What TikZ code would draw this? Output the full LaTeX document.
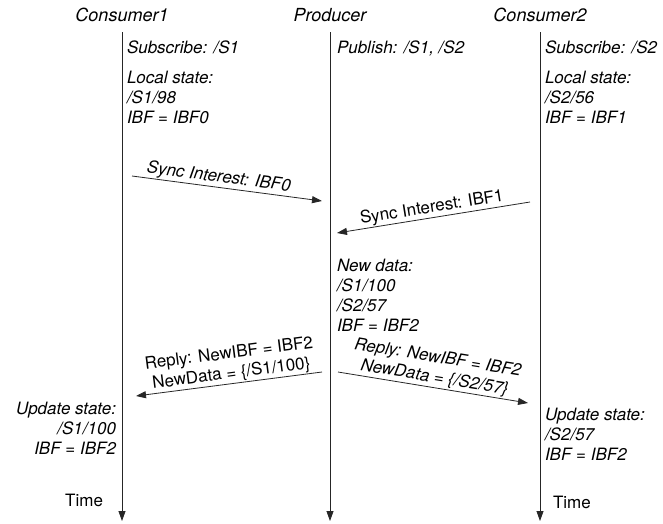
\documentclass[tikz,border=0pt]{standalone}
\usepackage{fontspec}
\setmainfont{TeX Gyre Heros}
\usetikzlibrary{arrows.meta}
\begin{document}
\begin{tikzpicture}[x=1pt,y=-1pt,
  every node/.style={inner sep=0pt, outer sep=0pt},
  hdr/.style={font=\fontsize{18}{20}\selectfont\itshape},
  txt/.style={font=\fontsize{17}{20}\selectfont\itshape, align=left},
  up/.style={font=\fontsize{17}{20}\selectfont},
  lbl/.style={font=\fontsize{17}{20}\selectfont, align=center, sloped, above=1.5pt},
  ln/.style={draw=black!85, line width=0.8pt, -{Triangle[length=10pt,width=7pt]}}]
\useasboundingbox (0,0) rectangle (663,523);
% headers
\node[hdr, anchor=base] (h1) at (122,21) {Consumer1};
\node[hdr, anchor=base] (h2) at (330,21) {Producer};
\node[hdr, anchor=base] (h3) at (540,21) {Consumer2};
% lifelines
\coordinate (c1top) at (122,32); \coordinate (c1bot) at (122,521);
\coordinate (ptop) at (330,32);  \coordinate (pbot) at (330,521);
\coordinate (c2top) at (540,32); \coordinate (c2bot) at (540,521);
\draw[ln] (c1top) -- (c1bot);
\draw[ln] (ptop) -- (pbot);
\draw[ln] (c2top) -- (c2bot);
% states
\node[txt, anchor=base west] (s1) at (127,53) {Subscribe: /S1};
\node[txt, anchor=north west] (ls1) at (127,71) {Local state:\\/S1/98\\IBF = IBF0};
\node[txt, anchor=base west] (pub) at (337,53) {Publish: /S1, /S2};
\node[txt, anchor=base west] (s2) at (545,53) {Subscribe: /S2};
\node[txt, anchor=north west] (ls2) at (545,71) {Local state:\\/S2/56\\IBF = IBF1};
\node[txt, anchor=north west] (nd) at (337,259) {New data:\\/S1/100\\/S2/57\\IBF = IBF2};
\node[txt, anchor=north east, align=right] (us1) at (116,402) {Update state:\\/S1/100\\IBF = IBF2};
\node[txt, anchor=north west] (us2) at (545,408) {Update state:\\/S2/57\\IBF = IBF2};
\node[up, anchor=base east] (t1) at (103,506) {Time};
\node[up, anchor=base west] (t2) at (553,508) {Time};
% messages
\coordinate (m1s) at (132,176); \coordinate (m1e) at (322,201);
\coordinate (m2s) at (530,202); \coordinate (m2e) at (337,233);
\coordinate (m3s) at (322,372); \coordinate (m3e) at (136,396);
\coordinate (m4s) at (338,372); \coordinate (m4e) at (528,403);
\draw[ln] (m1s) -- node[lbl, pos=0.45, font=\fontsize{17}{20}\selectfont\itshape] (l1) {Sync Interest: IBF0} (m1e);
\draw[ln] (m2s) -- node[lbl] (l2) {Sync Interest: IBF1} (m2e);
\draw[ln] (m3s) -- node[lbl, pos=0.48] (l3) {Reply: NewIBF = IBF2\\NewData = \{/S1/100\}} (m3e);
\draw[ln] (m4s) -- node[lbl, pos=0.5, font=\fontsize{17}{20}\selectfont\itshape] (l4) {Reply: NewIBF = IBF2\\NewData = \{/S2/57\}} (m4e);
\end{tikzpicture}
\end{document}
